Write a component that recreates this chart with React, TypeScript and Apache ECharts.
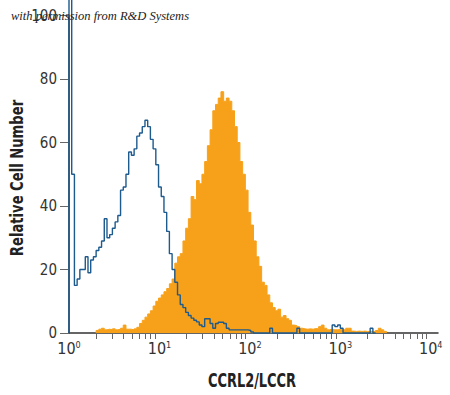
import { useEffect, useRef } from "react";
import * as echarts from "echarts";

// Histogram channels: each bin spans binWidth decades of log10(intensity)
const binWidth = 0.03;

// Isotype control (blue outline), starting at 10^0
const blueCounts = [
  106, 50, 15, 17, 20, 20, 24, 19, 23, 24,
  26, 27, 29, 36, 30, 31, 33, 35, 37, 45,
  46, 50, 57, 56, 58, 62, 63, 65, 67, 65,
  61, 58, 53, 46, 43, 38, 32, 25, 20, 16,
  12, 9, 8, 6.5, 5.5, 4.7, 4, 3.5, 2.5, 2,
  4.5, 4.5, 3, 1.5, 3, 3.4, 3.4, 3, 1.5, 1,
  1, 1, 1, 1, 1, 1, 0.8, 0.3, 0, 0,
  0, 0, 0, 0, 1.5, 0, 0, 0, 0, 0,
  0, 0, 0, 0, 1.5, 0, 0, 0, 0, 0,
  0, 0, 0, 0, 0, 0, 0, 2.5, 2, 2.5,
  1.5, 0, 0, 0, 0, 0, 0, 0, 0, 0,
  0, 1.5, 0,
];

// CCRL2/LCCR stained cells (orange filled)
const orangeStartBin = 10;
const orangeCounts = [
  0.8, 1.2, 1.5, 1, 1.2, 1, 1.3, 1, 1.2, 1.5,
  2.5, 1.2, 1.2, 1, 1.3, 1.8, 3, 4, 5, 6,
  7, 8.5, 10, 11, 12, 13, 14, 15.5, 17, 22,
  24, 25, 29, 33, 36, 43, 42, 48, 47, 50,
  54, 59, 64, 70, 72, 74, 76, 73, 74, 73,
  70, 65, 60, 54, 50, 45, 38, 34, 29, 24,
  21, 16, 15, 12, 9.5, 8, 7, 7.5, 5, 5.5,
  4.5, 4, 2.5, 2.3, 2, 1.5, 1.3, 1.2, 1.3, 1.2,
  1.4, 1.3, 2, 2.5, 1.5, 1, 1.2, 1, 1, 1.1,
  1, 1, 1.5, 1.5, 0.6, 0.5, 0.6, 0.5, 0.6, 0.5,
  0.5, 0.5, 0.5, 0.8, 1.5, 1, 0.5,
];

// Axis ticks
const xDecades = [0, 1, 2, 3, 4];
const minorMultipliers = [2, 3, 4, 5, 6, 7, 8, 9];
const yTickValues = [0, 20, 40, 60, 80, 100];

const xTitle = "CCRL2/LCCR";
const yTitle = "Relative Cell Number";
const credit = "with permission from R&D Systems";

const xMax = 4.08;
const NARROW = "'Liberation Sans Narrow', 'DejaVu Sans Condensed', 'Roboto', sans-serif";

function histData(counts: number[], startBin: number) {
  const d: number[][] = [[startBin * binWidth, 0]];
  counts.forEach((v, i) => d.push([(startBin + i) * binWidth, v]));
  d.push([(startBin + counts.length) * binWidth, 0]);
  return d;
}

export default function App() {
  const ref = useRef<HTMLDivElement>(null);
  useEffect(() => {
    if (!ref.current) return;
    const chart = echarts.init(ref.current, undefined, { renderer: "svg" });
    const minorTicks: number[] = [];
    xDecades.slice(0, 4).forEach((d) =>
      minorMultipliers.forEach((m) => minorTicks.push(Math.log10(m * Math.pow(10, d))))
    );
    chart.setOption({
      animation: false,
      grid: { left: 69, right: 12, top: 15.5, bottom: 62, containLabel: false, outerBoundsMode: "none" },
      xAxis: {
        type: "value",
        min: 0,
        max: xMax,
        axisLine: { show: true, onZero: false, lineStyle: { color: "#333", width: 1.5 } },
        axisTick: { show: true, customValues: minorTicks, length: 6, lineStyle: { color: "#666", width: 1 } },
        axisLabel: {
          customValues: xDecades,
          formatter: (v: number) => `{b|10}{s|${Math.round(v)}}`,
          margin: 7,
          rich: {
            b: { fontSize: 16, fontFamily: NARROW, color: "#333" },
            s: { fontSize: 9, fontFamily: NARROW, color: "#333", verticalAlign: "top" },
          },
        },
        splitLine: { show: false },
      },
      yAxis: {
        type: "value",
        min: 0,
        max: 100,
        interval: 20,
        axisLine: { show: true, lineStyle: { color: "#333", width: 1.5 } },
        axisTick: { show: true, customValues: yTickValues, length: 9, lineStyle: { color: "#666", width: 1 } },
        axisLabel: { customValues: yTickValues, fontSize: 15, fontFamily: NARROW, color: "#333", margin: 12 },
        splitLine: { show: false },
      },
      series: [
        {
          type: "line",
          name: "CCRL2/LCCR",
          step: "end",
          symbol: "none",
          data: histData(orangeCounts, orangeStartBin),
          lineStyle: { color: "#F7A11A", width: 1 },
          areaStyle: { color: "#F7A11A", opacity: 1 },
          z: 2,
        },
        {
          type: "line",
          name: "Isotype",
          step: "end",
          symbol: "none",
          clip: false,
          data: histData(blueCounts, 0),
          lineStyle: { color: "#1d5a8e", width: 1.4 },
          z: 3,
        },
      ],
      graphic: [
        {
          type: "text",
          x: 252,
          y: 380,
          scaleX: 0.72,
          style: {
            text: xTitle,
            font: `bold 20px ${NARROW}`,
            fill: "#222",
            align: "center",
            verticalAlign: "middle",
          },
        },
        {
          type: "text",
          x: 17,
          y: 178,
          rotation: Math.PI / 2,
          scaleX: 0.86,
          style: {
            text: yTitle,
            font: `bold 17px ${NARROW}`,
            fill: "#222",
            align: "center",
            verticalAlign: "middle",
          },
        },
        {
          type: "text",
          left: 11,
          top: 9,
          z: 100,
          style: {
            text: credit,
            font: "italic 12.5px 'Liberation Serif', serif",
            fill: "#222",
          },
        },
      ],
    });
    return () => chart.dispose();
  }, []);
  return (
    <div
      ref={ref}
      style={{ position: "fixed", left: 0, top: 0, width: 450, height: 395, background: "#fff" }}
    />
  );
}
